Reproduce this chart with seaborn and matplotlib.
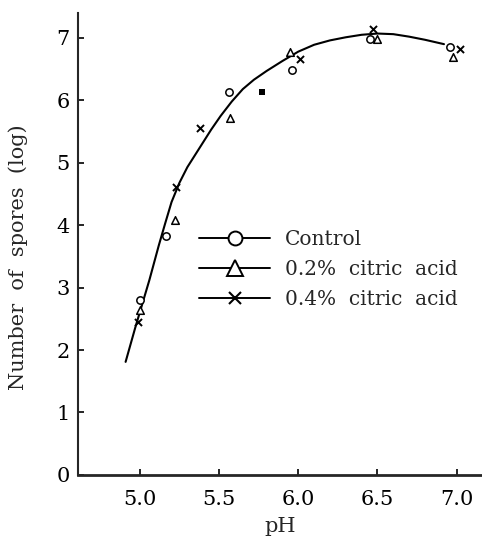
import matplotlib
matplotlib.use("Agg")
import matplotlib.pyplot as plt
from matplotlib.lines import Line2D
import seaborn as sns
import pandas as pd

# fitted curve
curve_ph = [4.91, 4.97, 5.06, 5.12, 5.16, 5.20, 5.25, 5.30, 5.38, 5.45, 5.51, 5.58,
            5.65, 5.72, 5.80, 5.90, 6.00, 6.10, 6.20, 6.30, 6.40, 6.50, 6.60,
            6.70, 6.80, 6.92]
curve_spores = [1.81, 2.35, 3.12, 3.68, 4.03, 4.37, 4.68, 4.93, 5.25, 5.53, 5.75, 5.98,
                6.18, 6.33, 6.47, 6.63, 6.78, 6.89, 6.96, 7.01, 7.05, 7.07, 7.06,
                7.02, 6.97, 6.90]

control_ph = [5.00, 5.165, 5.56, 5.96, 6.45, 6.96]
control_spores = [2.80, 3.82, 6.14, 6.48, 6.98, 6.85]

citric02_ph = [5.00, 5.22, 5.57, 5.95, 6.50, 6.98]
citric02_spores = [2.64, 4.08, 5.71, 6.77, 6.99, 6.69]

citric04_ph = [4.99, 5.23, 5.38, 6.01, 6.47, 7.02]
citric04_spores = [2.45, 4.61, 5.55, 6.67, 7.15, 6.83]

blot_ph = [5.77]
blot_spores = [6.13]

x_ticks = [5.0, 5.5, 6.0, 6.5, 7.0]
y_ticks = [0, 1, 2, 3, 4, 5, 6, 7]
labels = ["Control", "0.2%  citric  acid", "0.4%  citric  acid"]

sns.set_style("ticks")
plt.rcParams["font.family"] = ["DejaVu Serif"]

fig = plt.figure(figsize=(4.82, 5.39), dpi=100)
ax = fig.add_axes([0.162, 0.119, 0.838, 0.857])

curve = pd.DataFrame({"ph": curve_ph, "spores": curve_spores})
sns.lineplot(data=curve, x="ph", y="spores", color="black", lw=1.5, ax=ax, sort=False)

sns.scatterplot(x=control_ph, y=control_spores, marker="o", s=28, facecolor="white",
                edgecolor="black", linewidth=1.1, ax=ax, zorder=3)
sns.scatterplot(x=citric02_ph, y=citric02_spores, marker="^", s=30, facecolor="white",
                edgecolor="black", linewidth=1.1, ax=ax, zorder=3)
sns.scatterplot(x=citric04_ph, y=citric04_spores, marker="x", s=26, color="black",
                linewidth=1.4, ax=ax, zorder=3)
sns.scatterplot(x=blot_ph, y=blot_spores, marker="s", s=22, color="black",
                linewidth=0, ax=ax, zorder=3)

ax.set_xlim(4.61, 7.16)
ax.set_ylim(0, 7.4)
ax.set_xticks(x_ticks)
ax.set_xticklabels([f"{v:.1f}" for v in x_ticks])
ax.set_yticks(y_ticks)
ax.tick_params(direction="in", length=4, width=1.2, labelsize=15, colors="black")
ax.tick_params(axis="x", pad=11)
ax.tick_params(axis="y", pad=6)

sns.despine(ax=ax)
ax.spines["left"].set_linewidth(1.5)
ax.spines["bottom"].set_linewidth(2)

ax.set_xlabel("pH", fontsize=15, labelpad=6)
ax.set_ylabel("Number  of  spores  (log)", fontsize=15)
ax.yaxis.set_label_coords(-0.124, 0.472)

handles = [
    Line2D([], [], color="black", lw=1.4, marker="o", markersize=10,
           markerfacecolor="white", markeredgewidth=1.4),
    Line2D([], [], color="black", lw=1.4, marker="^", markersize=11,
           markerfacecolor="white", markeredgewidth=1.4),
    Line2D([], [], color="black", lw=1.4, marker="x", markersize=9,
           markeredgewidth=1.5),
]
ax.legend(handles, labels, loc="center left", bbox_to_anchor=(0.30, 0.444),
          frameon=False, fontsize=14.5, handlelength=3.5, handletextpad=0.75,
          labelspacing=0.55, borderpad=0, borderaxespad=0)

fig.savefig("out.png", dpi=100)
